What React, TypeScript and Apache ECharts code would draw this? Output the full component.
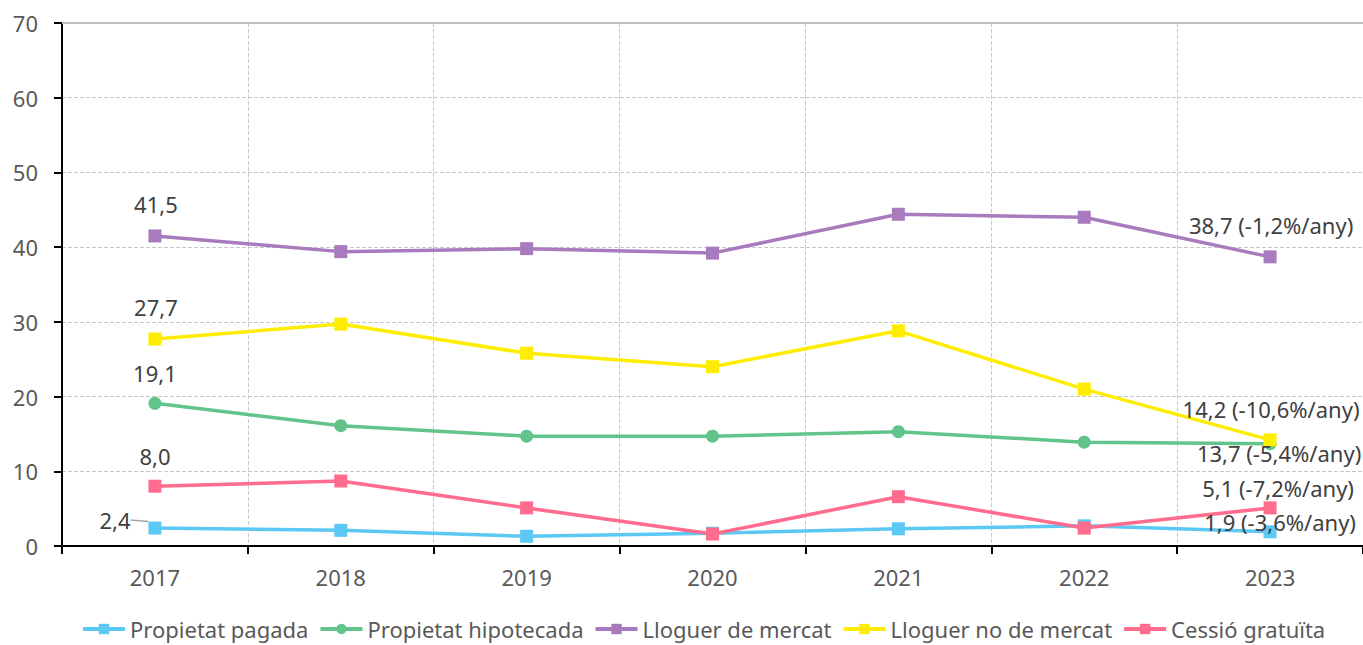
import React, { useEffect, useRef } from "react";
import * as echarts from "echarts";

const years = ["2017", "2018", "2019", "2020", "2021", "2022", "2023"];
const propietatPagada = [2.4, 2.1, 1.3, 1.7, 2.3, 2.7, 1.9];
const propietatHipotecada = [19.1, 16.1, 14.7, 14.7, 15.3, 13.9, 13.7];
const lloguerMercat = [41.5, 39.4, 39.8, 39.2, 44.4, 44.0, 38.7];
const lloguerNoMercat = [27.7, 29.7, 25.8, 24.0, 28.8, 21.0, 14.2];
const cessioGratuita = [8.0, 8.7, 5.1, 1.6, 6.6, 2.4, 5.1];
const lastLabels = {
  pagada: "1,9 (-3,6%/any)",
  hipotecada: "13,7 (-5,4%/any)",
  mercat: "38,7 (-1,2%/any)",
  noMercat: "14,2 (-10,6%/any)",
  cessio: "5,1 (-7,2%/any)",
};
const firstLabels = { pagada: "2,4", hipotecada: "19,1", mercat: "41,5", noMercat: "27,7", cessio: "8,0" };

const FONT = "'Noto Sans', Roboto, sans-serif";
const TXT = "#404040";
const FS = 22;

function buildData(vals: number[], first: string, last: string, firstOffset: number[] | null, lastOffset: number[] | null) {
  return vals.map((v, i) => {
    if (i === 0) {
      return {
        value: v,
        label: firstOffset
          ? { show: true, position: "inside", offset: firstOffset, formatter: first }
          : { show: true, position: "inside", formatter: first },
        labelLine: firstOffset ? undefined : { show: true, lineStyle: { color: "#a6a6a6", width: 1.5 } },
      };
    }
    if (i === vals.length - 1) {
      return {
        value: v,
        label: lastOffset
          ? { show: true, position: "inside", offset: lastOffset, formatter: last }
          : { show: true, position: "inside", formatter: last },
        labelLine: { show: false },
      };
    }
    return { value: v };
  });
}

export default function App() {
  const ref = useRef<HTMLDivElement>(null);
  useEffect(() => {
    if (!ref.current) return;
    const chart = echarts.init(ref.current, null, { renderer: "svg" });
    const labelStyle = { color: TXT, fontSize: FS, fontFamily: FONT };
    const mk = (name: string, color: string, symbol: string, data: any[], extra: any = {}) => ({
      name,
      type: "line",
      data,
      symbol,
      symbolSize: 13,
      lineStyle: { color, width: 3.5 },
      itemStyle: { color },
      label: { ...labelStyle },
      z: 3,
      ...extra,
    });
    chart.setOption({
      animation: false,
      textStyle: { fontFamily: FONT },
      grid: { left: 62, right: 0, top: 23, bottom: 99, containLabel: false },
      legend: {
        bottom: 0,
        left: 76,
        itemWidth: 42,
        itemHeight: 13,
        itemGap: 10,
        lineStyle: { width: 4 },
        textStyle: { color: "#595959", fontSize: FS, fontFamily: FONT },
        data: ["Propietat pagada", "Propietat hipotecada", "Lloguer de mercat", "Lloguer no de mercat", "Cessió gratuïta"],
      },
      xAxis: {
        type: "category",
        data: years,
        boundaryGap: true,
        axisLine: { lineStyle: { color: "#000", width: 2 } },
        axisTick: { show: true, length: 8, lineStyle: { color: "#000", width: 2 } },
        axisLabel: { color: "#595959", fontSize: FS, fontFamily: FONT, margin: 20 },
        splitLine: { show: true, lineStyle: { color: "#c8c8c8", type: "dashed", width: 1 } },
      },
      yAxis: {
        type: "value",
        min: 0,
        max: 70,
        interval: 10,
        axisLine: { show: true, lineStyle: { color: "#000", width: 2 } },
        axisTick: { show: true, length: 8, lineStyle: { color: "#000", width: 2 } },
        axisLabel: { color: "#595959", fontSize: FS, fontFamily: FONT, margin: 24 },
        splitLine: { show: true, lineStyle: { color: "#c8c8c8", type: "dashed", width: 1 } },
      },
      series: [
        mk("Propietat pagada", "#5BC9F4", "rect",
          buildData(propietatPagada, firstLabels.pagada, lastLabels.pagada, null, null),
          {
            labelLayout: (p: any) =>
              p.dataIndex === 0 ? { dx: -40, dy: -8 } : p.dataIndex === 6 ? { dx: 10, dy: -10 } : {},
            markLine: {
              silent: true,
              symbol: "none",
              label: { show: false },
              lineStyle: { color: "#bfbfbf", type: "solid", width: 2 },
              data: [{ yAxis: 70 }],
            },
          }),
        mk("Propietat hipotecada", "#62C38B", "circle",
          buildData(propietatHipotecada, firstLabels.hipotecada, lastLabels.hipotecada, [0, -30], [9, 9])),
        mk("Lloguer de mercat", "#A87BBE", "rect",
          buildData(lloguerMercat, firstLabels.mercat, lastLabels.mercat, [1, -32], [1, -32])),
        mk("Lloguer no de mercat", "#FFED00", "rect",
          buildData(lloguerNoMercat, firstLabels.noMercat, lastLabels.noMercat, [1, -32], [1, -31])),
        mk("Cessió gratuïta", "#FF6C8E", "rect",
          buildData(cessioGratuita, firstLabels.cessio, lastLabels.cessio, [0, -30], [8, -20])),
      ],
    });
    return () => chart.dispose();
  }, []);
  return (
    <div
      ref={ref}
      style={{ position: "fixed", left: 0, top: 0, width: 1363, height: 645, background: "#fff" }}
    />
  );
}
